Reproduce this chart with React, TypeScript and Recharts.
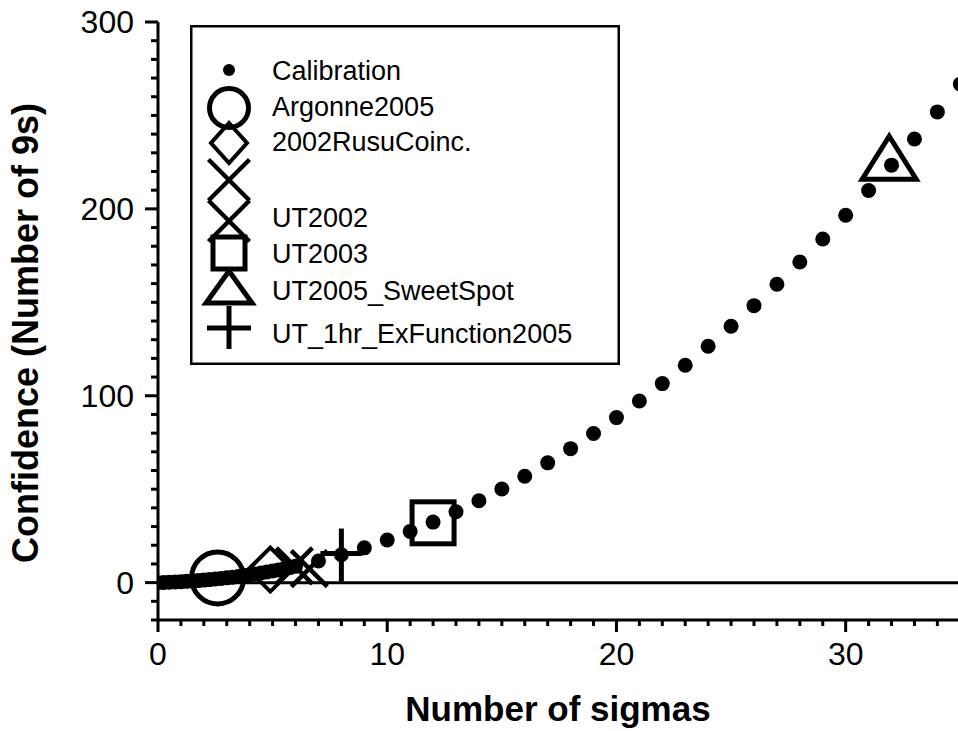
import { Legend, ReferenceLine, Scatter, ScatterChart, XAxis, YAxis } from "recharts";

const FONT = '"Liberation Sans", Arial, Helvetica, sans-serif';
const INK = "#000";

// calibration curve: number of 9s against sigma
const calibSigma = [
  0, 0.25, 0.5, 0.75, 1, 1.25, 1.5, 1.75, 2, 2.25, 2.5, 2.75, 3, 3.25, 3.5, 3.75, 4, 4.25, 4.5,
  4.75, 5, 5.25, 5.5, 5.75, 6, 7, 8, 9, 10, 11, 12, 13, 14, 15, 16, 17, 18, 19, 20, 21, 22, 23,
  24, 25, 26, 27, 28, 29, 30, 31, 32, 33, 34, 35,
];
const calibNines = [
  0, 0.1, 0.21, 0.34, 0.5, 0.68, 0.87, 1.09, 1.34, 1.61, 1.91, 2.22, 2.57, 2.94, 3.33, 3.75, 4.2,
  4.67, 5.17, 5.69, 6.24, 6.82, 7.42, 8.05, 8.71, 11.6, 14.9, 18.6, 22.8, 27.4, 32.4, 37.9, 43.8,
  50.1, 56.9, 64.1, 71.7, 79.8, 88.3, 97.2, 106.5, 116.3, 126.5, 137.2, 148.2, 159.7, 171.6, 183.9,
  196.6, 209.8, 223.4, 237.4, 251.9, 266.8,
];

// single measurements
const markerNames = [
  "Argonne2005",
  "2002RusuCoinc.",
  "",
  "UT2002",
  "UT2003",
  "UT2005_SweetSpot",
  "UT_1hr_ExFunction2005",
];
const markerKinds = ["circle", "diamond", "cross", "cross", "square", "triangle", "plus"];
const markerSigma = [2.6, 4.9, 5.95, 6.6, 12, 31.9, 8];
const markerNines = [2.5, 7, 9, 7.5, 32, 226, 14.5];

const xTicks = Array.from({ length: 35 }, (_, i) => i);
const xMajor = [0, 10, 20, 30];
const yTicks = Array.from({ length: 33 }, (_, i) => -20 + i * 10);
const yMajor = [0, 100, 200, 300];

const calibData = calibSigma.map((x, i) => ({ x, y: calibNines[i] }));

// symbol sizes, chart vs legend (legend symbols are drawn a bit smaller)
const SIZES: Record<string, { chart: number[]; legend: number[] }> = {
  dot: { chart: [7.5], legend: [6] },
  circle: { chart: [26], legend: [19.5] },
  diamond: { chart: [22, 22], legend: [18, 20] },
  cross: { chart: [18], legend: [20.5] },
  square: { chart: [21], legend: [16] },
  triangle: { chart: [27, 24, 19], legend: [23, 17, 15] },
  plus: { chart: [21, 27, 26, -2], legend: [22, 22, 21, 0] },
};

function Marker({ kind, cx, cy, legend = false }: { kind: string; cx: number; cy: number; legend?: boolean }) {
  const sz = legend ? SIZES[kind].legend : SIZES[kind].chart;
  if (kind === "dot") return <circle cx={cx} cy={cy} r={sz[0]} fill={INK} />;
  if (kind === "circle")
    return <circle cx={cx} cy={cy} r={sz[0]} fill="none" stroke={INK} strokeWidth={5} />;
  if (kind === "diamond") {
    const [w, h] = sz;
    return (
      <polygon
        points={`${cx},${cy - h} ${cx + w},${cy} ${cx},${cy + h} ${cx - w},${cy}`}
        fill="none"
        stroke={INK}
        strokeWidth={4}
      />
    );
  }
  if (kind === "cross") {
    const h = sz[0];
    return (
      <g stroke={INK} strokeWidth={4.5}>
        <line x1={cx - h} y1={cy - h} x2={cx + h} y2={cy + h} />
        <line x1={cx - h} y1={cy + h} x2={cx + h} y2={cy - h} />
      </g>
    );
  }
  if (kind === "square") {
    const h = sz[0];
    return (
      <rect x={cx - h} y={cy - h} width={2 * h} height={2 * h} fill="none" stroke={INK} strokeWidth={5} />
    );
  }
  if (kind === "triangle") {
    const [w, up, down] = sz;
    return (
      <polygon
        points={`${cx},${cy - up} ${cx + w},${cy + down} ${cx - w},${cy + down}`}
        fill="none"
        stroke={INK}
        strokeWidth={5}
      />
    );
  }
  // plus
  const [w, up, down, bar] = sz;
  return (
    <g stroke={INK} strokeWidth={5}>
      <line x1={cx} y1={cy - up} x2={cx} y2={cy + down} />
      <line x1={cx - w} y1={cy + bar} x2={cx + w} y2={cy + bar} />
    </g>
  );
}

function XTick({ x, y, payload }: any) {
  const major = xMajor.includes(payload.value);
  return (
    <g>
      <line x1={x} y1={y} x2={x} y2={y + (major ? 12 : 6)} stroke={INK} strokeWidth={3} />
      {major && (
        <text x={x} y={y + 45} textAnchor="middle" fontSize={32} fontFamily={FONT} fill={INK}>
          {payload.value}
        </text>
      )}
    </g>
  );
}

function YTick({ x, y, payload }: any) {
  const major = yMajor.includes(payload.value);
  return (
    <g>
      <line x1={x} y1={y} x2={x - (major ? 13 : 7)} y2={y} stroke={INK} strokeWidth={3} />
      {major && (
        <text x={x - 24} y={y + 11} textAnchor="end" fontSize={32} fontFamily={FONT} fill={INK}>
          {payload.value}
        </text>
      )}
    </g>
  );
}

function XTitle({ viewBox }: any) {
  const vb = viewBox ?? { x: 158, y: 620, width: 800 };
  return (
    <text
      x={vb.x + vb.width / 2}
      y={vb.y + 101}
      textAnchor="middle"
      fontSize={35}
      fontWeight="bold"
      fontFamily={FONT}
      fill={INK}
    >
      Number of sigmas
    </text>
  );
}

function YTitle({ viewBox }: any) {
  const vb = viewBox ?? { x: 0, y: 22, height: 598 };
  const cx = vb.x + 38;
  const cy = vb.y + vb.height / 2 + 12;
  return (
    <text
      x={cx}
      y={cy}
      transform={`rotate(-90, ${cx}, ${cy})`}
      textAnchor="middle"
      fontSize={36}
      fontWeight="bold"
      fontFamily={FONT}
      fill={INK}
    >
      Confidence (Number of 9s)
    </text>
  );
}

// legend rows: symbol centre and label centre, inside the box
const legendRows = [
  { kind: "dot", label: "Calibration", sy: 45, ly: 45 },
  { kind: "circle", label: markerNames[0], sy: 83, ly: 81 },
  { kind: "diamond", label: markerNames[1], sy: 118, ly: 116 },
  { kind: "cross", label: markerNames[2], sy: 155, ly: 154 },
  { kind: "cross", label: markerNames[3], sy: 196, ly: 192 },
  { kind: "square", label: markerNames[4], sy: 228, ly: 228 },
  { kind: "triangle", label: markerNames[5], sy: 263, ly: 265 },
  { kind: "plus", label: markerNames[6], sy: 303, ly: 308 },
];

function LegendBox() {
  return (
    <svg width={430} height={340} style={{ display: "block" }}>
      <rect x={1.25} y={1.25} width={427.5} height={337.5} fill="#fff" stroke={INK} strokeWidth={2.5} />
      {legendRows.map((row, i) => (
        <g key={i}>
          <Marker kind={row.kind} cx={39} cy={row.sy} legend />
          {row.label && (
            <text x={82} y={row.ly + 9.5} fontSize={27} fontFamily={FONT} fill={INK}>
              {row.label}
            </text>
          )}
        </g>
      ))}
    </svg>
  );
}

export default function App() {
  return (
    <div style={{ position: "absolute", left: 0, top: 0, width: 958, height: 731, background: "#fff" }}>
      <ScatterChart width={958} height={731} margin={{ top: 22, right: 0, bottom: 0, left: 0 }}>
        <XAxis
          type="number"
          dataKey="x"
          domain={[0, 34.9]}
          allowDataOverflow
          ticks={xTicks}
          interval={0}
          tick={(p: any) => <XTick {...p} />}
          tickLine={false}
          tickSize={0}
          tickMargin={0}
          axisLine={{ stroke: INK, strokeWidth: 3 }}
          height={111}
          label={<XTitle />}
        />
        <YAxis
          type="number"
          dataKey="y"
          domain={[-20, 300]}
          ticks={yTicks}
          interval={0}
          tick={(p: any) => <YTick {...p} />}
          tickLine={false}
          tickSize={0}
          tickMargin={0}
          axisLine={{ stroke: INK, strokeWidth: 3 }}
          width={158}
          label={<YTitle />}
        />
        <ReferenceLine y={0} stroke={INK} strokeWidth={3} />
        <Legend
          layout="horizontal"
          verticalAlign="middle"
          align="center"
          wrapperStyle={{ left: 190, top: 25, width: 430, height: 340 }}
          content={() => <LegendBox />}
        />
        <Scatter
          name="Calibration"
          data={calibData}
          isAnimationActive={false}
          shape={(p: any) => <Marker kind="dot" cx={p.cx} cy={p.cy} />}
        />
        {markerNames.map((name, i) => (
          <Scatter
            key={i}
            name={name || "blank"}
            data={[{ x: markerSigma[i], y: markerNines[i] }]}
            isAnimationActive={false}
            shape={(p: any) => <Marker kind={markerKinds[i]} cx={p.cx} cy={p.cy} />}
          />
        ))}
      </ScatterChart>
    </div>
  );
}
